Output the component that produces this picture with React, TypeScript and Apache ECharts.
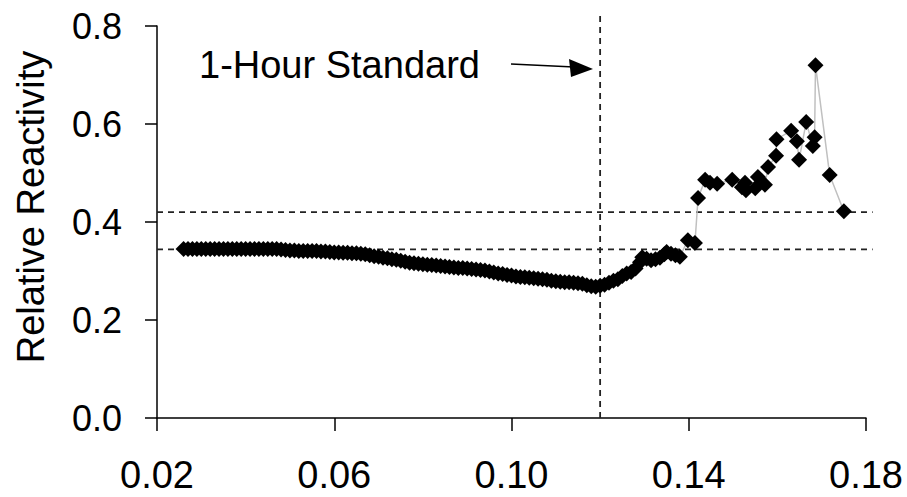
import React, { useEffect, useRef } from "react";
import * as echarts from "echarts";

// O3 concentration (x) and relative reactivity (y)
const xValues: number[] = [
  0.026, 0.027, 0.028, 0.029, 0.030, 0.031, 0.032, 0.033, 0.034, 0.035,
  0.036, 0.037, 0.038, 0.039, 0.040, 0.041, 0.042, 0.043, 0.044, 0.045,
  0.046, 0.047, 0.048, 0.049, 0.050, 0.051, 0.052, 0.053, 0.054, 0.055,
  0.056, 0.057, 0.058, 0.059, 0.060, 0.061, 0.062, 0.063, 0.064, 0.065,
  0.066, 0.067, 0.068, 0.069, 0.070, 0.071, 0.072, 0.073, 0.074, 0.075,
  0.076, 0.077, 0.078, 0.079, 0.080, 0.081, 0.082, 0.083, 0.084, 0.085,
  0.086, 0.087, 0.088, 0.089, 0.090, 0.091, 0.092, 0.093, 0.094, 0.095,
  0.096, 0.097, 0.098, 0.099, 0.100, 0.101, 0.102, 0.103, 0.104, 0.105,
  0.106, 0.107, 0.108, 0.109, 0.110, 0.111, 0.112, 0.113, 0.114, 0.115,
  0.116, 0.117, 0.118, 0.119, 0.120, 0.121, 0.122, 0.123, 0.124, 0.125,
  0.126, 0.127, 0.128, 0.129, 0.1295, 0.1305, 0.1315, 0.1325, 0.1335, 0.1345,
  0.135, 0.136, 0.137, 0.138, 0.1398, 0.1414, 0.1421, 0.1437, 0.1448, 0.1464,
  0.1498, 0.1520, 0.1527, 0.1529, 0.1550, 0.1556, 0.1572, 0.1579, 0.1597, 0.1598,
  0.1631, 0.1644, 0.1649, 0.1665, 0.1680, 0.1684, 0.1686, 0.1718, 0.1750,
];
const yValues: number[] = [
  0.345, 0.345, 0.345, 0.345, 0.345, 0.345, 0.345, 0.345, 0.345, 0.345,
  0.345, 0.345, 0.345, 0.345, 0.345, 0.345, 0.345, 0.345, 0.345, 0.345,
  0.345, 0.345, 0.344, 0.343, 0.342, 0.342, 0.341, 0.341, 0.341, 0.341,
  0.341, 0.340, 0.340, 0.339, 0.338, 0.338, 0.337, 0.337, 0.336, 0.336,
  0.335, 0.334, 0.332, 0.330, 0.329, 0.327, 0.326, 0.324, 0.323, 0.321,
  0.319, 0.317, 0.316, 0.315, 0.314, 0.313, 0.312, 0.311, 0.310, 0.309,
  0.308, 0.307, 0.306, 0.306, 0.305, 0.304, 0.303, 0.302, 0.301, 0.299,
  0.297, 0.295, 0.294, 0.292, 0.291, 0.289, 0.288, 0.287, 0.286, 0.285,
  0.284, 0.283, 0.282, 0.280, 0.279, 0.278, 0.277, 0.277, 0.276, 0.275,
  0.274, 0.271, 0.269, 0.268, 0.270, 0.272, 0.276, 0.280, 0.283, 0.290,
  0.295, 0.298, 0.305, 0.318, 0.328, 0.325, 0.322, 0.324, 0.327, 0.334,
  0.339, 0.335, 0.332, 0.329, 0.363, 0.357, 0.449, 0.486, 0.480, 0.478,
  0.486, 0.471, 0.480, 0.465, 0.469, 0.492, 0.476, 0.512, 0.535, 0.569,
  0.586, 0.565, 0.527, 0.604, 0.555, 0.573, 0.720, 0.496, 0.422,
];

const xTickValues: number[] = [0.02, 0.06, 0.10, 0.14, 0.18];
const yTickValues: number[] = [0.0, 0.2, 0.4, 0.6, 0.8];
const horizontalRefs: number[] = [0.42, 0.344];
const standardX = 0.12;
const annotation = "1-Hour Standard";
const yAxisTitle = "Relative Reactivity";

const FONT = "'Liberation Sans', Arial, Helvetica, sans-serif";

export default function App() {
  const ref = useRef<HTMLDivElement>(null);

  useEffect(() => {
    if (!ref.current) return;
    const chart = echarts.init(ref.current, null, { renderer: "svg" });
    const data = xValues.map((x, i) => [x, yValues[i]]);
    chart.setOption({
      animation: false,
      backgroundColor: "#ffffff",
      grid: { left: 157, top: 26, width: 709, height: 392 },
      xAxis: {
        type: "value",
        min: xTickValues[0],
        max: xTickValues[xTickValues.length - 1],
        interval: 0.04,
        splitLine: { show: false },
        axisLine: { show: true, lineStyle: { color: "#000", width: 1.5 } },
        axisTick: { show: true, inside: false, length: 13, lineStyle: { color: "#000", width: 1.5 } },
        axisLabel: {
          margin: 38,
          fontSize: 38,
          fontFamily: FONT,
          color: "#000",
          formatter: (v: number) => v.toFixed(2),
        },
      },
      yAxis: {
        type: "value",
        min: yTickValues[0],
        max: yTickValues[yTickValues.length - 1],
        interval: 0.2,
        splitLine: { show: false },
        axisLine: { show: true, lineStyle: { color: "#000", width: 1.5 } },
        axisTick: { show: true, inside: false, length: 12, lineStyle: { color: "#000", width: 1.5 } },
        axisLabel: {
          margin: 35,
          fontSize: 36,
          fontFamily: FONT,
          color: "#000",
          formatter: (v: number) => v.toFixed(1),
        },
      },
      series: [
        {
          type: "line",
          data,
          symbol: "diamond",
          symbolSize: 16,
          showSymbol: true,
          showAllSymbol: true,
          itemStyle: { color: "#000" },
          lineStyle: { color: "#c0c0c0", width: 1.5 },
          z: 3,
        },
      ],
    });

    const p = (x: number, y: number) =>
      chart.convertToPixel({ gridIndex: 0 }, [x, y]) as number[];
    const dashStyle = { stroke: "#222", lineWidth: 1.8, lineDash: [6, 5] };
    const graphics: any[] = [];
    horizontalRefs.forEach((v) => {
      const a = p(0.02, v);
      const b = p(0.1815, v);
      graphics.push({
        type: "line",
        shape: { x1: a[0], y1: a[1], x2: b[0], y2: b[1] },
        style: dashStyle,
        z: 1,
      });
    });
    const vb = p(standardX, 0);
    const vt = p(standardX, 0.825);
    graphics.push({
      type: "line",
      shape: { x1: vb[0], y1: vb[1], x2: vt[0], y2: vt[1] },
      style: dashStyle,
      z: 1,
    });
    graphics.push({
      type: "text",
      x: 199,
      y: 65,
      style: {
        text: annotation,
        fontSize: 38,
        fontFamily: FONT,
        fill: "#000",
        textAlign: "left",
        textVerticalAlign: "middle",
      },
    });
    graphics.push({
      type: "line",
      shape: { x1: 511, y1: 64, x2: 574, y2: 67 },
      style: { stroke: "#000", lineWidth: 1.5 },
    });
    graphics.push({
      type: "polygon",
      shape: { points: [[569, 59], [571, 77], [593, 69]] },
      style: { fill: "#000" },
    });
    graphics.push({
      type: "text",
      x: 31,
      y: 207,
      rotation: Math.PI / 2,
      style: {
        text: yAxisTitle,
        fontSize: 38,
        fontFamily: FONT,
        fill: "#000",
        textAlign: "center",
        textVerticalAlign: "middle",
      },
    });
    chart.setOption({ graphic: graphics });

    return () => chart.dispose();
  }, []);

  return (
    <div
      ref={ref}
      style={{ position: "absolute", left: 0, top: 0, width: 907, height: 497, background: "#fff" }}
    />
  );
}
